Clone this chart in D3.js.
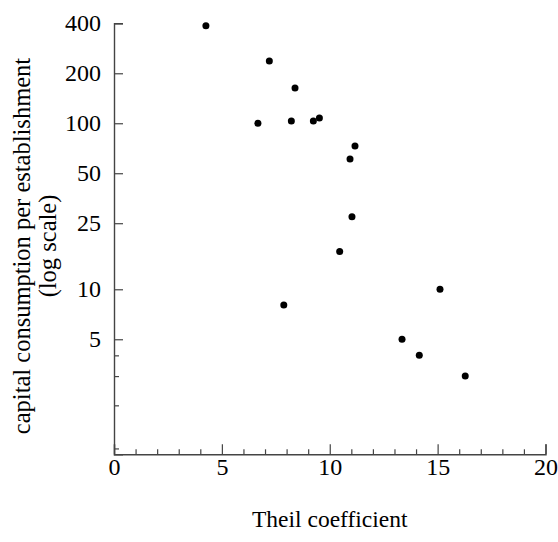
<!DOCTYPE html>
<html>
<head>
<meta charset="utf-8">
<script src="https://cdn.jsdelivr.net/npm/d3@7"></script>
<style>
  html, body { margin: 0; padding: 0; background: #fff; }
  svg { display: block; }
  text { font-family: "Liberation Serif", "Times New Roman", serif; fill: #000; }
</style>
</head>
<body>
<div id="chart"></div>
<script>
// Data
const theil = [4.26, 7.20, 8.39, 6.67, 8.22, 9.24, 9.52, 11.17, 10.94, 11.03, 10.46, 15.11, 13.35, 14.15, 16.28, 7.87];
const capital = [387, 237, 163, 100, 103, 103, 107.6, 73, 61, 27.3, 16.9, 10, 5, 4.0, 3.0, 8.04];
const yTickValues = [400, 200, 100, 50, 25, 10, 5];
const yMinorTicks = [4, 3, 2, 1.1];
const xTickValues = [0, 5, 10, 15, 20];
const xMinorTicks = d3.range(0, 21, 1);
const xTitle = "Theil coefficient";
const yTitle = ["capital consumption per establishment", "(log scale)"];

const W = 558, H = 542;
const svg = d3.select("#chart").append("svg").attr("width", W).attr("height", H);

const x = d3.scaleLinear().domain([0, 20]).range([114, 545.5]);
const y = d3.scaleLog().domain([1.014, 400]).range([454.3, 23.3]);

const axisColor = "#444";
const fs = 24;

// Y axis: major ticks with labels, pointing inward
const yAxis = svg.append("g").attr("transform", `translate(${x(0)},0)`)
  .call(d3.axisLeft(y).tickValues(yTickValues).tickFormat(d3.format("d")).tickSize(-9).tickPadding(13));
yAxis.selectAll("text").style("font-size", fs + "px").attr("font-family", null);
yAxis.select(".domain").attr("stroke", axisColor).attr("stroke-width", 1.4);
yAxis.selectAll(".tick line").attr("stroke", axisColor).attr("stroke-width", 1.2);

const yMinor = svg.append("g").attr("transform", `translate(${x(0)},0)`)
  .call(d3.axisLeft(y).tickValues(yMinorTicks).tickFormat("").tickSize(-5));
yMinor.select(".domain").remove();
yMinor.selectAll(".tick line").attr("stroke", axisColor).attr("stroke-width", 1.2);

// X axis
const xAxis = svg.append("g").attr("transform", `translate(0,${y.range()[0]})`)
  .call(d3.axisBottom(x).tickValues(xTickValues).tickFormat(d3.format("d")).tickSize(-10).tickPadding(4));
xAxis.selectAll("text").style("font-size", fs + "px").attr("font-family", null);
xAxis.select(".domain").attr("stroke", axisColor).attr("stroke-width", 1.4);
xAxis.selectAll(".tick line").attr("stroke", axisColor).attr("stroke-width", 1.2);

const xMinor = svg.append("g").attr("transform", `translate(0,${y.range()[0]})`)
  .call(d3.axisBottom(x).tickValues(xMinorTicks.filter(v => v % 5 !== 0)).tickFormat("").tickSize(-5));
xMinor.select(".domain").remove();
xMinor.selectAll(".tick line").attr("stroke", axisColor).attr("stroke-width", 1.2);

// Points
svg.append("g").selectAll("circle")
  .data(theil.map((t, i) => ({ t, c: capital[i] })))
  .join("circle")
  .attr("cx", d => x(d.t))
  .attr("cy", d => y(d.c))
  .attr("r", 3.5)
  .attr("fill", "#000");

// Titles
svg.append("text")
  .attr("x", (x.range()[0] + x.range()[1]) / 2)
  .attr("y", 527)
  .attr("text-anchor", "middle")
  .style("font-size", "23.5px")
  .text(xTitle);

yTitle.forEach((line, i) => {
  svg.append("text")
    .attr("transform", `translate(${30 + i * 26},246) rotate(-90)`)
    .attr("text-anchor", "middle")
    .style("font-size", "24.5px")
    .text(line);
});
</script>
</body>
</html>
